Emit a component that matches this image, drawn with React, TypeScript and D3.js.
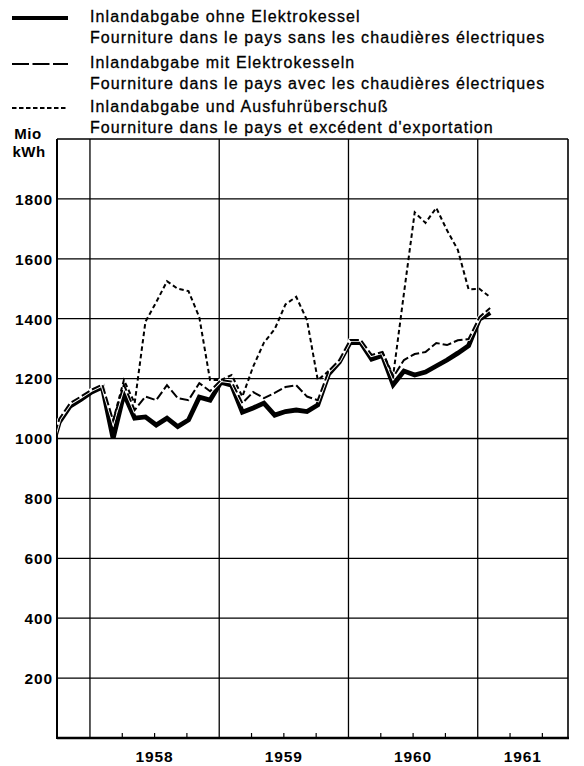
import React from 'react';
import * as d3 from 'd3';

// ---- data (Mio kWh, monthly, Sep 1957 – Feb 1961) ----
const monthLabels = [
  '1957-09', '1957-10', '1957-11', '1957-12',
  '1958-01', '1958-02', '1958-03', '1958-04', '1958-05', '1958-06', '1958-07', '1958-08', '1958-09', '1958-10', '1958-11', '1958-12',
  '1959-01', '1959-02', '1959-03', '1959-04', '1959-05', '1959-06', '1959-07', '1959-08', '1959-09', '1959-10', '1959-11', '1959-12',
  '1960-01', '1960-02', '1960-03', '1960-04', '1960-05', '1960-06', '1960-07', '1960-08', '1960-09', '1960-10', '1960-11', '1960-12',
  '1961-01', '1961-02',
];

const ohneElektrokessel = [
  930, 1055, 1108, 1130,
  1155, 1172, 1000, 1150, 1068, 1072, 1045, 1068, 1040, 1062, 1138, 1128,
  1188, 1178, 1088, 1102, 1118, 1078, 1090, 1095, 1090, 1112, 1215, 1255,
  1320, 1320, 1265, 1277, 1180, 1225, 1212, 1222, 1242, 1262, 1285, 1310,
  1398, 1420,
];

const mitElektrokesseln = [
  940, 1065, 1118, 1140,
  1163, 1180, 1060, 1180, 1095, 1140, 1128, 1178, 1135, 1128, 1185, 1158,
  1195, 1190, 1118, 1155, 1135, 1152, 1172, 1178, 1140, 1128, 1225, 1262,
  1329, 1329, 1279, 1289, 1205, 1262, 1282, 1289, 1319, 1312, 1328, 1332,
  1405, 1436,
];

const mitAusfuhrueberschuss: (number | null)[] = [
  null, null, null, null,
  null, null, 1060, 1195, 1118, 1390, 1455, 1525, 1500, 1492, 1405, 1195,
  1195, 1212, 1140, 1240, 1320, 1365, 1448, 1473, 1395, 1195, 1225, null,
  null, null, null, 1289, 1210, 1485, 1755, 1720, 1770, 1695, 1630, 1498,
  1500, 1472,
];

const yTicks = [200, 400, 600, 800, 1000, 1200, 1400, 1600, 1800];
const yearLabels = ['1958', '1959', '1960', '1961'];

const legendItems = [
  { de: 'Inlandabgabe ohne Elektrokessel', fr: 'Fourniture dans le pays sans les chaudières électriques', kind: 'solid' },
  { de: 'Inlandabgabe mit Elektrokesseln', fr: 'Fourniture dans le pays avec les chaudières électriques', kind: 'dashed' },
  { de: 'Inlandabgabe und Ausfuhrüberschuß', fr: "Fourniture dans le pays et excédent d'exportation", kind: 'dotted' },
];

// ---- layout ----
const W = 584;
const H = 766;
const left = 57;
const right = 568;
const top = 139;
const bottom = 738;
const FONT = '"Liberation Sans", Arial, Helvetica, sans-serif';
const pointOffset = 0.15;

const monthIndex = (s: string) => {
  const [y, m] = s.split('-').map(Number);
  return (y - 1958) * 12 + (m - 1);
};

export default function App() {
  const x = d3.scaleLinear().domain([-3.06, 44.38]).range([left, right]);
  const y = d3.scaleLinear().domain([0, 2000]).range([bottom, top]);

  const mk = (vals: (number | null)[]) =>
    monthLabels.map((m, i) => [monthIndex(m) + pointOffset, vals[i]] as [number, number | null]);

  const line = d3
    .line<[number, number | null]>()
    .defined((d) => d[1] != null)
    .x((d) => x(d[0]))
    .y((d) => y(d[1] as number));

  const pS = line(mk(ohneElektrokessel)) || '';
  const pD = line(mk(mitElektrokesseln)) || '';
  const pP = line(mk(mitAusfuhrueberschuss)) || '';

  const [d0, d1] = x.domain();
  const yearStarts = yearLabels.map((_, i) => i * 12);
  const quarterTicks: number[] = [];
  yearStarts.forEach((s) => [3, 6, 9].forEach((q) => { if (s + q < d1) quarterTicks.push(s + q); }));

  const legendY = [18, 64, 108];

  return (
    <svg width={W} height={H} style={{ position: 'absolute', left: 0, top: 0, background: '#fff' }} fontFamily={FONT}>
      <rect x={0} y={0} width={W} height={H} fill="#fff" />
      <defs>
        <clipPath id="plot">
          <rect x={left} y={top} width={right - left} height={bottom - top} />
        </clipPath>
      </defs>

      {/* legend */}
      {legendItems.map((it, i) => {
        const ly = legendY[i];
        return (
          <g key={it.de}>
            {it.kind === 'solid' && <line x1={12} x2={68} y1={ly} y2={ly} stroke="#000" strokeWidth={4} />}
            {it.kind === 'dashed' && (
              <line x1={12} x2={68} y1={ly} y2={ly} stroke="#000" strokeWidth={2.2} strokeDasharray="17 3.5" />
            )}
            {it.kind === 'dotted' && (
              <line x1={12} x2={68} y1={ly} y2={ly} stroke="#000" strokeWidth={2} strokeDasharray="4.5 2.5" />
            )}
            <text x={90} y={ly + 4} fontSize={16} letterSpacing={1.1} fill="#000" stroke="#000" strokeWidth={0.3}>{it.de}</text>
            <text x={90} y={ly + 25} fontSize={16} letterSpacing={1.1} fill="#000" stroke="#000" strokeWidth={0.3}>{it.fr}</text>
          </g>
        );
      })}

      {/* unit */}
      <text x={28} y={139} fontSize={15} fontWeight="bold" textAnchor="middle" letterSpacing={0.5}>Mio</text>
      <text x={29} y={157} fontSize={15} fontWeight="bold" textAnchor="middle" letterSpacing={0.5}>kWh</text>

      {/* horizontal grid */}
      {yTicks.map((t) => (
        <line key={t} x1={left} x2={right} y1={y(t)} y2={y(t)} stroke="#000" strokeWidth={1.3} />
      ))}
      <line x1={left} x2={right} y1={y(2000)} y2={y(2000)} stroke="#000" strokeWidth={1.5} />

      {/* vertical grid */}
      {yearStarts.map((s) => (
        <line key={s} x1={x(s)} x2={x(s)} y1={top} y2={bottom} stroke="#000" strokeWidth={1.3} />
      ))}
      <line x1={right} x2={right} y1={top} y2={bottom} stroke="#000" strokeWidth={1.6} />

      {/* quarter ticks */}
      {quarterTicks.map((q) => (
        <line key={q} x1={x(q)} x2={x(q)} y1={bottom} y2={bottom - 5} stroke="#000" strokeWidth={1.2} />
      ))}

      {/* axes */}
      <line x1={left} x2={left} y1={top} y2={bottom + 1} stroke="#000" strokeWidth={2} />
      <line x1={left} x2={right + 1} y1={bottom} y2={bottom} stroke="#000" strokeWidth={2.5} />

      {/* y tick labels */}
      {yTicks.map((t) => (
        <text key={t} x={53} y={y(t) + 5.8} fontSize={15.5} fontWeight="bold" textAnchor="end" letterSpacing={0.9} fill="#000">
          {t}
        </text>
      ))}

      {/* year labels */}
      {yearLabels.map((lab, i) => {
        const a = Math.max(yearStarts[i], d0);
        const b = Math.min(yearStarts[i] + 12, d1);
        return (
          <text key={lab} x={x((a + b) / 2)} y={762} fontSize={15.5} fontWeight="bold" textAnchor="middle" letterSpacing={0.9} fill="#000">
            {lab}
          </text>
        );
      })}

      {/* series */}
      <g clipPath="url(#plot)" fill="none" strokeLinejoin="miter" strokeLinecap="butt">
        <path d={pS} stroke="#000" strokeWidth={4.8} />
        <path d={pD} stroke="#fff" strokeWidth={3.8} />
        <path d={pD} stroke="#000" strokeWidth={2} strokeDasharray="9 3" />
        <path d={pP} stroke="#000" strokeWidth={2} strokeDasharray="4.5 3" />
      </g>
    </svg>
  );
}
